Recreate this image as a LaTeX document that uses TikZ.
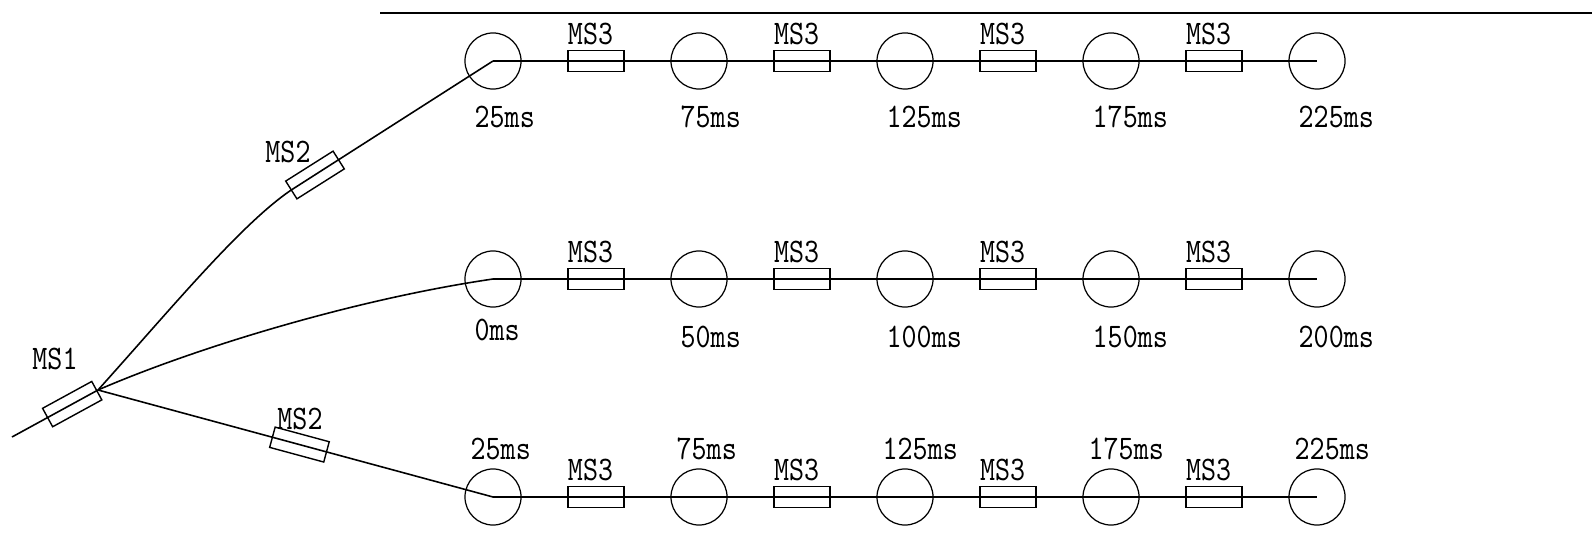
\documentclass[tikz,border=0pt]{standalone}
\usepackage{fontspec}
\newfontfamily\cadfont[FakeStretch=0.83]{lmmono10-regular.otf}
\usetikzlibrary{positioning}
\tikzset{
  wire/.style={draw, line width=0.45pt},
  rule/.style={draw, line width=0.6pt}
  }
\tikzstyle{ring}=[circle, draw, line width=0.35pt, minimum size=0.56cm, inner sep=0pt]
\tikzstyle{fuse}=[rectangle, draw, line width=0.4pt, minimum width=0.56cm, minimum height=0.21cm, inner sep=0pt]
\tikzstyle{tag}=[inner sep=0pt, font=\cadfont\fontsize{9.8pt}{12pt}\selectfont]

\begin{document}
\begin{tikzpicture}[x=0.01cm, y=-0.01cm]
    \useasboundingbox (0,0) rectangle (1592,543);

    % top rule
    \coordinate (ruleA) at (380,13);
    \coordinate (ruleB) at (1592,13);
    \path[rule] (ruleA) -- (ruleB);

    % three rows of holes with MS3 delays
    \foreach \row/\y in {t/61, m/279, b/497} {
      \foreach \i in {1,...,5} {
        \node[ring] (\row\i) at ({493+206*(\i-1)}, \y) {};
      }
      \foreach \i in {1,...,4} {
        \node[fuse] (\row f\i) at ({596+206*(\i-1)}, \y) {};
        \node[tag, above=0.045cm of \row f\i.north west, anchor=south west] (\row q\i) {MS3};
      }
      \path[wire] (\row1.center) -- (\row5.center);
    }

    % delay times
    \foreach \i/\t in {1/25, 2/75, 3/125, 4/175, 5/225} {
      \node[tag, anchor=west] (tl\i) at ([xshift=-0.19cm, yshift=-0.56cm]t\i.center) {\t ms};
      \node[tag, anchor=west] (bl\i) at ([xshift=-0.23cm, yshift=0.48cm]b\i.center) {\t ms};
    }
    \foreach \i/\t/\d in {1/0/0.51, 2/50/0.58, 3/100/0.58, 4/150/0.58, 5/200/0.58} {
      \node[tag, anchor=west] (ml\i) at ([xshift=-0.19cm, yshift=-\d cm]m\i.center) {\t ms};
    }

    % feed line and branches
    \coordinate (feed) at (12,437);
    \coordinate (hub) at (98,390);
    \path[wire] (feed) -- node[fuse, sloped, pos=0.7] (ms1) {} (hub);
    \node[tag] (ms1q) at (55,359) {MS1};

    \node[fuse, rotate=32.3] (ms2a) at (315,175) {};
    \node[tag] (ms2aq) at (288,152) {MS2};
    \path[wire] (hub) .. controls (170,310) and (240,225) .. (ms2a.west) -- (t1.center);

    \path[wire] (hub) .. controls (190,350) and (350,300) .. (m1.center);

    \path[wire] (hub) -- node[fuse, sloped, pos=0.51] (ms2b) {} (b1.center);
    \node[tag] (ms2bq) at (300,419) {MS2};
\end{tikzpicture}
\end{document}
